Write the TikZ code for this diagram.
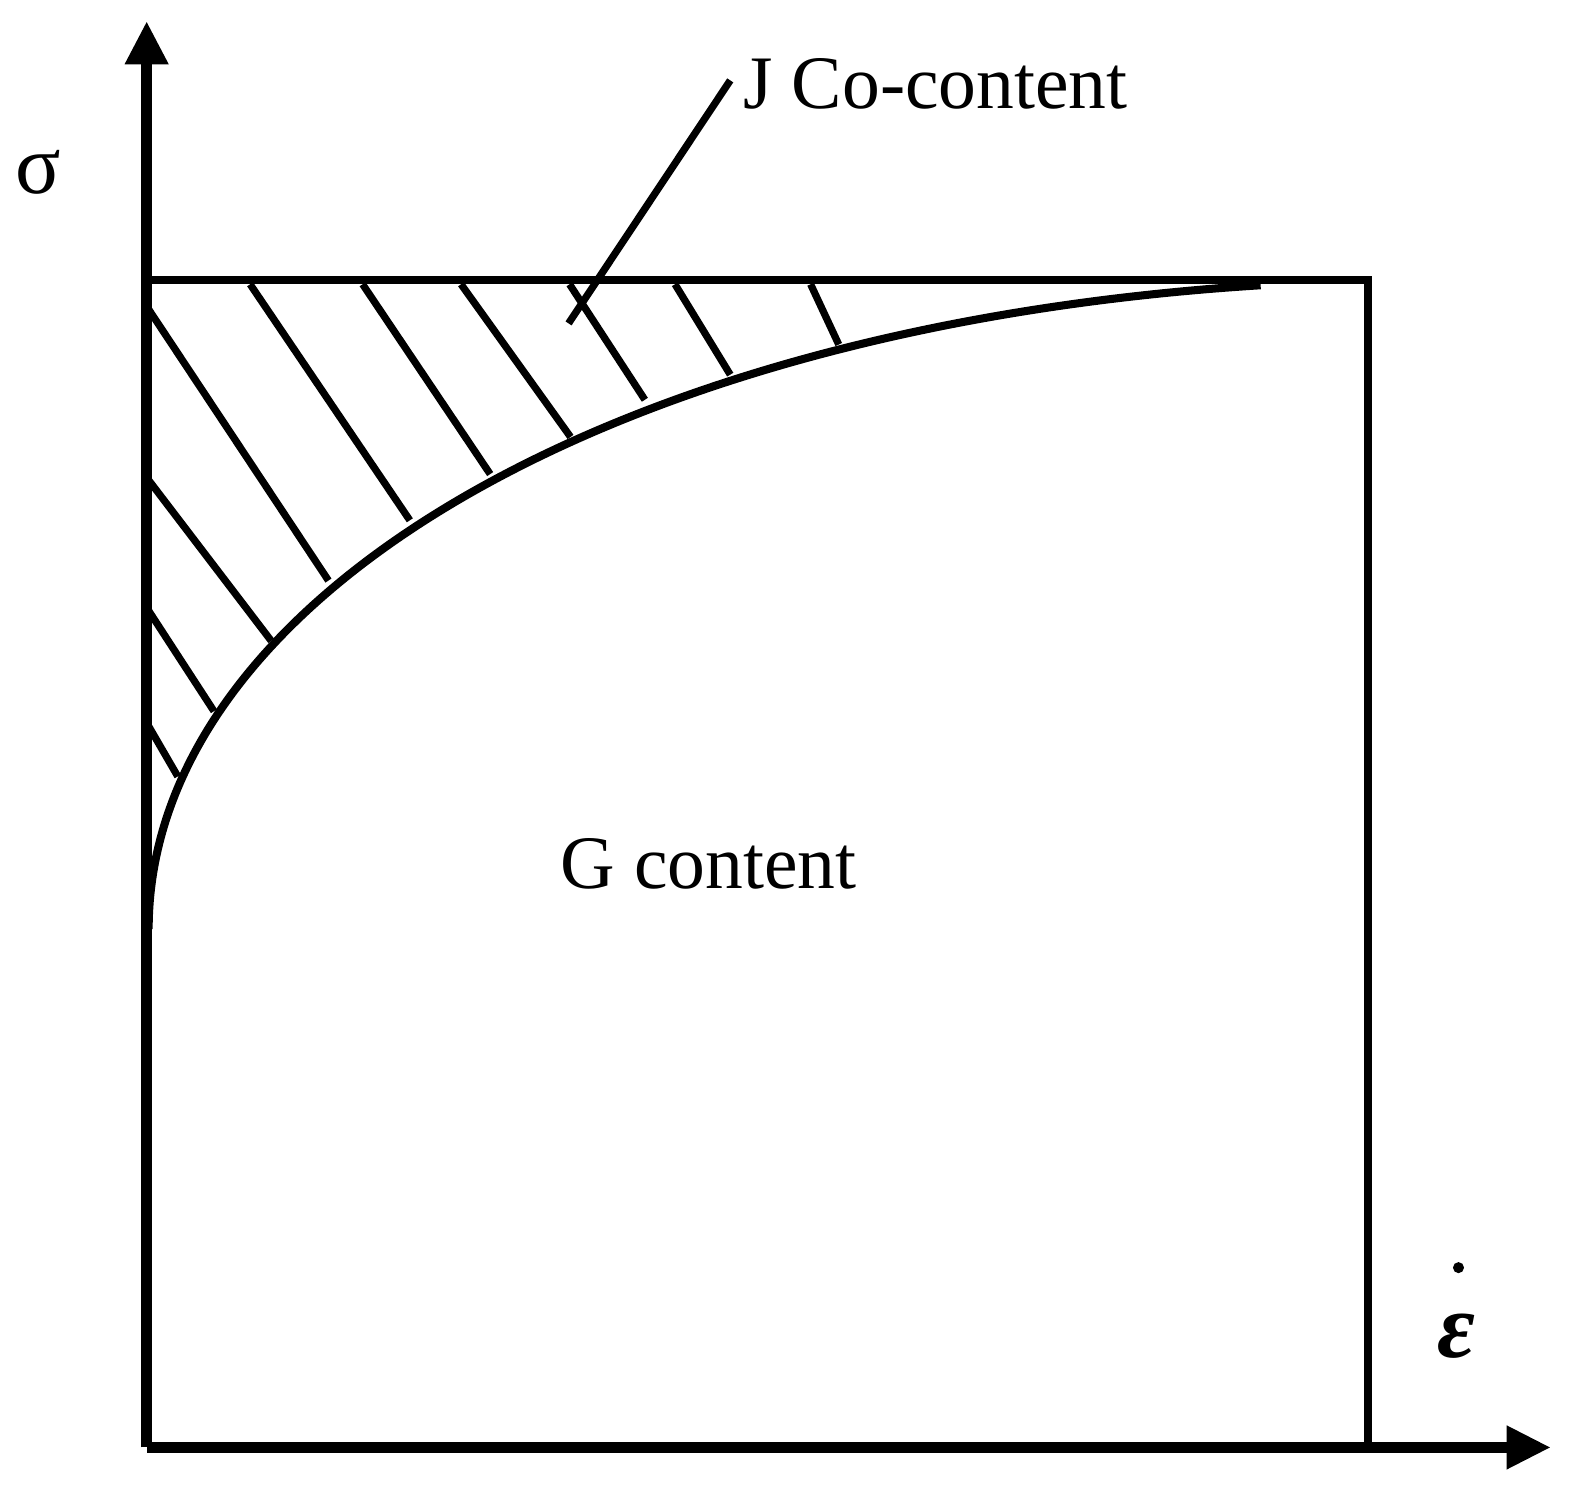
\documentclass[tikz,border=0pt]{standalone}
\usepackage{fontspec}
\setmainfont{Liberation Serif}
\begin{document}
\begin{tikzpicture}[x=0.5pt,y=-0.5pt,
  axisline/.style={line width=5.5pt},
  frameline/.style={line width=4.2pt},
  curveline/.style={line width=4pt},
  hatchline/.style={line width=3.6pt},
  arrowhd/.style={fill=black,draw=none},
  lbl/.style={inner sep=0pt,font=\fontsize{37.6}{42}\selectfont,anchor=base west}]
\fill[white] (0,0) rectangle (1568,1491);
\useasboundingbox (0,0) rectangle (1568,1491);
% key points
\coordinate (O) at (146,1441);
\coordinate (ytip) at (146,22);
\coordinate (xtip) at (1543,1441);
\coordinate (TL) at (146,279);
\coordinate (TR) at (1362,279);
\coordinate (BR) at (1362,1441);
\coordinate (cs) at (148,925);
\coordinate (ce) at (1255,284);
% axes
\draw[axisline] (O) -- (146,60);
\draw[axisline] (O) -- (1505,1441);
\fill[arrowhd] (ytip) -- (124,64) -- (168,64) -- cycle;
\fill[arrowhd] (xtip) -- (1500,1419) -- (1500,1463) -- cycle;
% frame
\draw[frameline] (TL) -- (TR) -- (BR);
% curve
\draw[curveline] (cs) .. controls (148,600) and (600,325) .. (ce);
% hatching
\draw[hatchline] (148,308) -- (327,578);
\draw[hatchline] (249,283) -- (408,518);
\draw[hatchline] (361,283) -- (488,472);
\draw[hatchline] (459,283) -- (568,435);
\draw[hatchline] (567,283) -- (642,398);
\draw[hatchline] (672,283) -- (727,373);
\draw[hatchline] (807,283) -- (835,343);
\draw[hatchline] (148,478) -- (270,638);
\draw[hatchline] (148,608) -- (213,708);
\draw[hatchline] (148,723) -- (177,773);
% labels
\node[lbl] (jco) at (740,108) {J Co-content};
\coordinate (lead1) at (727,80);
\coordinate (lead2) at (566,322);
\draw[hatchline] (lead1) -- (lead2);
\node[lbl] (gc) at (558,885) {G content};
\node[inner sep=0pt,font=\fontsize{42}{46}\selectfont] (sig) at (38,172) {σ};
\node[inner sep=0pt,font=\fontsize{46}{50}\bfseries\itshape] (eps) at (1450,1330) {ε};
\fill (1452,1262) circle (5.5);
\end{tikzpicture}
\end{document}
